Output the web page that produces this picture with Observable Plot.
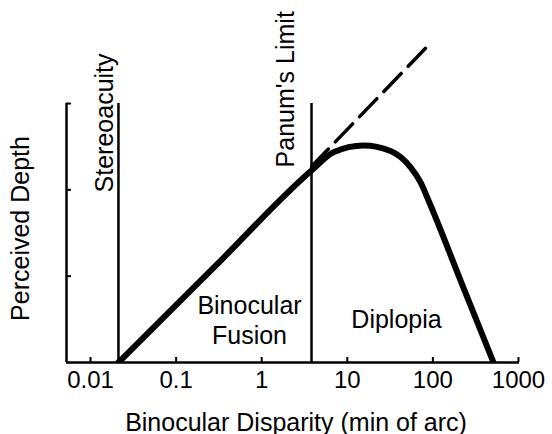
<!DOCTYPE html>
<html><head><meta charset="utf-8">
<script src="https://cdn.jsdelivr.net/npm/d3@7"></script>
<script src="https://cdn.jsdelivr.net/npm/@observablehq/plot@0.6"></script>
<style>
html,body{margin:0;padding:0;background:#fff;}
#chart svg{display:block;}
</style>
</head><body><div id="chart"></div>
<script>
// Tick values and labels
const xTicks = [0.01, 0.1, 1, 10, 100, 1000];
const xTickLabels = ["0.01", "0.1", "1", "10", "100", "1000"];
const yTicks = [1, 2, 3];
const xDomain = [0.00524, 1028];
const yDomain = [0, 3];

// Perceived depth curve (solid)
const curveX = [0.0212, 0.288, 3.82, 6.9, 15.5, 32, 54.7, 71.6, 88.9, 213, 511];
const curveDepth = [0, 1.118, 2.224, 2.436, 2.514, 2.45, 2.262, 2.088, 1.877, 0.938, 0];

// Linear extrapolation (dashed)
const dashX = [82, 3.82];
const dashDepth = [3.64, 2.27];

// Boundaries
const boundaryX = [0.0212, 3.82];
const boundaryLabels = ["Stereoacuity", "Panum's Limit"];

// Region labels
const regionLabels = ["Binocular\nFusion", "Diplopia"];
const regionX = [0.72, 37.6];
const regionDepth = [0.22, 0.405];

const curve = curveX.map((x, i) => ({x, d: curveDepth[i]}));
const dash = dashX.map((x, i) => ({x, d: dashDepth[i]}));
const regions = regionLabels.map((t, i) => ({t, x: regionX[i], d: regionDepth[i]}));

const plot = Plot.plot({
  width: 552, height: 434,
  marginLeft: 66, marginRight: 33, marginTop: 103, marginBottom: 72,
  style: {fontFamily: "'Liberation Sans', Arial, Helvetica, sans-serif", fontSize: "24px", color: "#000", background: "#fff", overflow: "visible"},
  x: {type: "log", domain: xDomain},
  y: {domain: yDomain},
  marks: [
    Plot.ruleY([0], {stroke: "#000", strokeWidth: 2.5}),
    Plot.ruleX([xDomain[0]], {y1: yDomain[0], y2: yDomain[1], stroke: "#000", strokeWidth: 2.5}),
    Plot.axisX({ticks: xTicks, tickFormat: d => xTickLabels[xTicks.indexOf(d)], tickSize: -5, tickPadding: 13, strokeWidth: 2, label: null, fontSize: 24}),
    Plot.axisY({ticks: yTicks, tickSize: -5, tickFormat: () => "", strokeWidth: 2, label: null}),
    Plot.ruleX(boundaryX, {y1: yDomain[0], y2: yDomain[1], stroke: "#000", strokeWidth: 2.5}),
    Plot.line(dash, {x: "x", y: "d", stroke: "#000", strokeWidth: 3.5, strokeDasharray: "25,10"}),
    Plot.line(curve, {x: "x", y: "d", stroke: "#000", strokeWidth: 6, curve: "monotone-x", clip: true}),
    Plot.text([boundaryLabels[0]], {x: boundaryX[0], y: 1.97, text: d => d, rotate: -90, textAnchor: "start", lineAnchor: "bottom", dx: -5, fontSize: 25}),
    Plot.text([boundaryLabels[1]], {x: boundaryX[1], y: 2.26, text: d => d, rotate: -90, textAnchor: "start", lineAnchor: "bottom", dx: -18, fontSize: 25}),
    Plot.text(regions, {x: "x", y: "d", text: "t", lineAnchor: "bottom", lineHeight: 1.2, textAnchor: "middle", fontSize: 25}),
    Plot.text(["Perceived Depth"], {frameAnchor: "left", text: d => d, rotate: -90, textAnchor: "middle", lineAnchor: "bottom", dx: -38, dy: -4.5, fontSize: 25}),
    Plot.text(["Binocular Disparity (min of arc)"], {frameAnchor: "bottom", text: d => d, textAnchor: "middle", lineAnchor: "bottom", dx: 3, dy: 68, fontSize: 25})
  ]
});
document.getElementById("chart").appendChild(plot);
</script>
</body></html>
